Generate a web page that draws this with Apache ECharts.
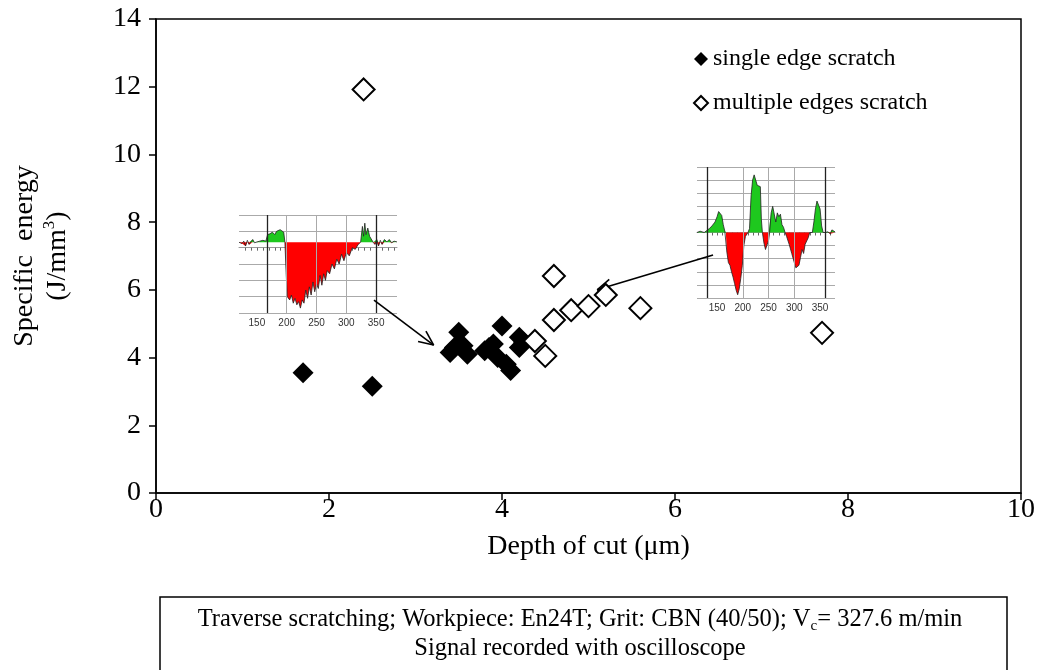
<!DOCTYPE html>
<html>
<head>
<meta charset="utf-8">
<script src="https://cdn.jsdelivr.net/npm/echarts@6/dist/echarts.min.js"></script>
<style>
html,body{margin:0;padding:0;background:#fff;}
#c{width:1042px;height:670px;}
</style>
</head>
<body>
<div id="c"></div>
<script>
// ---- main data ----
const singleEdge = [[1.7,3.55],[2.5,3.15],[3.4,4.15],[3.45,4.3],[3.5,4.75],[3.55,4.35],[3.6,4.1],[3.8,4.2],[3.85,4.3],[3.9,4.4],[3.95,4.0],[4.0,4.93],[4.05,3.8],[4.1,3.62],[4.2,4.3],[4.2,4.6],[4.25,4.45]];
const multipleEdges = [[2.4,11.92],[4.38,4.49],[4.5,4.05],[4.6,5.11],[4.6,6.41],[4.8,5.40],[5.0,5.52],[5.2,5.85],[5.6,5.46],[7.7,4.73]];
const xTicks = [0,2,4,6,8,10];
const yTicks = [0,2,4,6,8,10,12,14];
const seriesNames = ['single edge scratch','multiple edges scratch'];
// arrows (data coordinates: start -> end)
const arrowLeft = [[2.52,5.70],[3.21,4.37]];
const arrowRight = [[6.44,7.03],[5.10,6.0]];
// ---- inset signals ----
const insetLeftBase = 0.33;
const insetLeftSignal = [[120,0.33],[125,0.25],[128,0.4],[131,0.1],[134,0.45],[137,0.2],[140,0.3],[143,0.5],[146,0.3],[150,0.35],[155,0.4],[160,0.45],[165,0.4],[168,0.8],[172,0.85],[176,0.95],[180,0.8],[183,1.0],[186,0.9],[189,1.1],[192,1.05],[195,0.95],[197,0.33],[199,-1.5],[201,-3.0],[205,-3.2],[208,-2.9],[211,-3.4],[214,-3.1],[217,-3.5],[220,-3.3],[223,-3.7],[226,-3.2],[229,-3.4],[232,-2.6],[235,-3.1],[238,-2.4],[241,-2.9],[244,-2.1],[247,-2.7],[250,-2.2],[253,-2.5],[256,-1.7],[259,-2.3],[262,-1.6],[265,-2.0],[268,-1.4],[272,-1.6],[276,-1.0],[280,-1.3],[284,-0.7],[288,-1.0],[292,-0.4],[296,-0.8],[300,-0.3],[305,-0.5],[310,0.0],[315,-0.1],[320,0.2],[324,0.33],[327,1.3],[329,0.7],[331,1.5],[333,0.8],[336,1.2],[339,0.7],[342,0.6],[345,0.33],[348,0.2],[351,0.5],[354,0.1],[357,0.45],[360,0.2],[364,0.5],[368,0.35],[372,0.5],[376,0.3],[380,0.4],[385,0.35]];
const insetLeftGray = [200,250,300];
const insetLeftBlack = [167,350];
const insetRightBase = 0;
const insetRightSignal = [[111,0],[114,-0.15],[117,0.1],[120,0.05],[125,0],[130,0.15],[135,0.3],[140,0.5],[143,0.4],[146,0.8],[150,1.2],[153,1.6],[156,1.75],[159,1.3],[162,0.6],[165,0.1],[167,0],[169,-1.5],[172,-2.3],[175,-2.5],[178,-3.0],[181,-3.4],[184,-3.9],[187,-4.4],[190,-4.75],[193,-4.3],[196,-3.5],[199,-2.5],[202,-1.0],[205,-0.3],[210,0],[213,0.3],[216,2.8],[219,4.0],[222,4.4],[225,4.3],[228,3.6],[231,3.7],[234,3.5],[236,1.0],[238,0],[241,-0.8],[244,-1.3],[247,-1.4],[250,-0.6],[252,0],[255,1.5],[258,2.0],[261,1.9],[264,0.8],[267,1.5],[270,1.2],[273,1.4],[276,0.6],[279,0.4],[282,0],[285,-0.3],[290,-0.9],[295,-1.6],[300,-2.3],[303,-2.7],[306,-2.8],[309,-2.5],[312,-1.9],[315,-1.3],[318,-1.6],[321,-0.9],[324,-1.0],[327,-0.4],[330,0],[335,0],[338,0.8],[341,1.8],[344,2.4],[347,2.5],[350,1.8],[353,0.5],[356,0],[360,0],[365,0.05],[370,-0.1],[373,0.2],[379,0.05]];
const insetRightGray = [200,250,300];
const insetRightBlack = [130,360];
const insetLabels = [150,200,250,300,350];

const SERIF = '"Liberation Serif","Times New Roman",serif';
const SANS = '"Liberation Sans",Arial,sans-serif';

function tickVals(a,b,step){const r=[];for(let v=a;v<=b;v+=step)r.push(v);return r;}

function insetSeries(sig, base, idx, gray, black){
  const pos = sig.map(p=>[p[0], Math.max(p[1],base)]);
  const neg = sig.map(p=>[p[0], Math.min(p[1],base)]);
  const ml = gray.map(v=>({xAxis:v, lineStyle:{color:'#aaa',width:1,type:'solid'}}))
     .concat(black.map(v=>({xAxis:v, lineStyle:{color:'#222',width:1.3,type:'solid'}})));
  return [
    {type:'line', xAxisIndex:idx, yAxisIndex:idx, data:pos, showSymbol:false, silent:true,
     lineStyle:{width:0}, areaStyle:{color:'#1ec81e', opacity:1, origin:base}, z:3,
     markLine:{silent:true, symbol:'none', label:{show:false}, data:ml, animation:false}},
    {type:'line', xAxisIndex:idx, yAxisIndex:idx, data:neg, showSymbol:false, silent:true,
     lineStyle:{width:0}, areaStyle:{color:'#ff0000', opacity:1, origin:base}, z:3},
    {type:'line', xAxisIndex:idx, yAxisIndex:idx, data:sig, showSymbol:false, silent:true,
     lineStyle:{width:0.8, color:'#222'}, z:4}
  ];
}

function insetXAxis(idx, min, max){
  return {gridIndex:idx, type:'value', min:min, max:max,
    axisLine:{show:true, lineStyle:{color:'#999', width:1}},
    axisTick:{show:true, customValues:tickVals(130,380,10), length:3, inside:false, lineStyle:{color:'#666'}},
    axisLabel:{show:true, customValues:insetLabels, fontSize:10, fontFamily:SANS, color:'#333', margin:5},
    splitLine:{show:false}};
}
function insetYAxis(idx, min, max){
  return {gridIndex:idx, type:'value', min:min, max:max, interval:1,
    axisLine:{show:false}, axisTick:{show:false}, axisLabel:{show:false},
    splitLine:{show:true, lineStyle:{color:'#aaa', width:1}}};
}

const option = {
  animation:false,
  backgroundColor:'#fff',
  textStyle:{fontFamily:SERIF},
  legend:{
    orient:'vertical', left:688, top:42, itemWidth:14, itemHeight:14, itemGap:20,
    data:seriesNames,
    textStyle:{fontFamily:SERIF, fontSize:24, color:'#000'}
  },
  grid:[
    {left:153, right:21, top:19, bottom:177, show:true, borderColor:'#000', borderWidth:1.5, containLabel:false},
    {left:239, top:215, width:158, height:98, show:true, backgroundColor:'#fff', borderWidth:0},
    {left:697, top:167, width:138, height:131, show:true, backgroundColor:'#fff', borderWidth:0}
  ],
  xAxis:[
    {gridIndex:0, type:'value', min:xTicks[0], max:xTicks[xTicks.length-1], interval:2,
     name:'Depth of cut (μm)', nameLocation:'middle', nameGap:40,
     nameTextStyle:{fontFamily:SERIF, fontSize:28, color:'#000'},
     axisLine:{lineStyle:{color:'#000', width:1.5}},
     axisTick:{inside:false, length:7, lineStyle:{color:'#000', width:1.5}},
     axisLabel:{fontFamily:SERIF, fontSize:28, color:'#000', margin:3},
     splitLine:{show:false}},
    insetXAxis(1,120,385),
    insetXAxis(2,111,379)
  ],
  yAxis:[
    {gridIndex:0, type:'value', min:yTicks[0], max:yTicks[yTicks.length-1], interval:2,
     name:'Specific  energy\n(J/mm{sup|3})', nameLocation:'middle', nameGap:82, nameRotate:90,
     nameTextStyle:{fontFamily:SERIF, fontSize:28, lineHeight:33, color:'#000', align:'center',
        rich:{sup:{fontFamily:SERIF, fontSize:17, lineHeight:20, verticalAlign:'top', color:'#000'}}},
     axisLine:{lineStyle:{color:'#000', width:1.5}},
     axisTick:{inside:false, length:7, lineStyle:{color:'#000', width:1.5}},
     axisLabel:{fontFamily:SERIF, fontSize:28, color:'#000', margin:15},
     splitLine:{show:false}},
    insetYAxis(1,-4,2),
    insetYAxis(2,-5,5)
  ],
  series:[
    ...insetSeries(insetLeftSignal, insetLeftBase, 1, insetLeftGray, insetLeftBlack),
    ...insetSeries(insetRightSignal, insetRightBase, 2, insetRightGray, insetRightBlack),
    {name:seriesNames[0], type:'scatter', xAxisIndex:0, yAxisIndex:0, data:singleEdge,
     symbol:'diamond', symbolSize:21, itemStyle:{color:'#000', opacity:1}, z:5},
    {name:seriesNames[1], type:'scatter', xAxisIndex:0, yAxisIndex:0, data:multipleEdges,
     symbol:'diamond', symbolSize:22, itemStyle:{color:'#fff', borderColor:'#000', borderWidth:2, opacity:1}, z:6},
    {type:'scatter', xAxisIndex:0, yAxisIndex:0, data:[], silent:true, z:7,
     markLine:{silent:true, symbol:'none', label:{show:false}, animation:false,
       lineStyle:{color:'#000', width:1.6, type:'solid'}, data:[]}}
  ],
  graphic:[
    {type:'rect', shape:{x:160, y:597, width:847, height:80}, style:{fill:'#fff', stroke:'#000', lineWidth:1.5}, z:10},
    {type:'text', x:580, y:605, z:11,
     style:{
       text:'{n|Traverse scratching; Workpiece: En24T; Grit: CBN (40/50); V}{sub|c}{n|= 327.6 m/min}\n{n|Signal recorded with oscilloscope}',
       align:'center', verticalAlign:'top', fontFamily:SERIF, fontSize:24.5, fill:'#000',
       rich:{
         n:{fontFamily:SERIF, fontSize:24.5, lineHeight:29, fill:'#000', color:'#000'},
         sub:{fontFamily:SERIF, fontSize:15, lineHeight:18, verticalAlign:'bottom', fill:'#000', color:'#000'}
       }
     }}
  ]
};
const chart = echarts.init(document.getElementById('c'), null, {renderer:'canvas'});
chart.setOption(option);

// build arrow lines with open (chevron) heads from the arrow coordinates
function arrowSegs(a){
  const p0 = chart.convertToPixel({gridIndex:0}, a[0]);
  const p1 = chart.convertToPixel({gridIndex:0}, a[1]);
  const ang = Math.atan2(p0[1]-p1[1], p0[0]-p1[0]);
  const L = 16, w = 0.42;
  const segs = [[{coord:a[0]},{coord:a[1]}]];
  [-w, w].forEach(s=>{
    const q = [p1[0]+L*Math.cos(ang+s), p1[1]+L*Math.sin(ang+s)];
    segs.push([{coord:a[1]},{coord:chart.convertFromPixel({gridIndex:0}, q)}]);
  });
  return segs;
}
const arrowData = arrowSegs(arrowLeft).concat(arrowSegs(arrowRight));
const s = option.series;
s[s.length-1].markLine.data = arrowData;
chart.setOption({series:s});
</script>
</body>
</html>
